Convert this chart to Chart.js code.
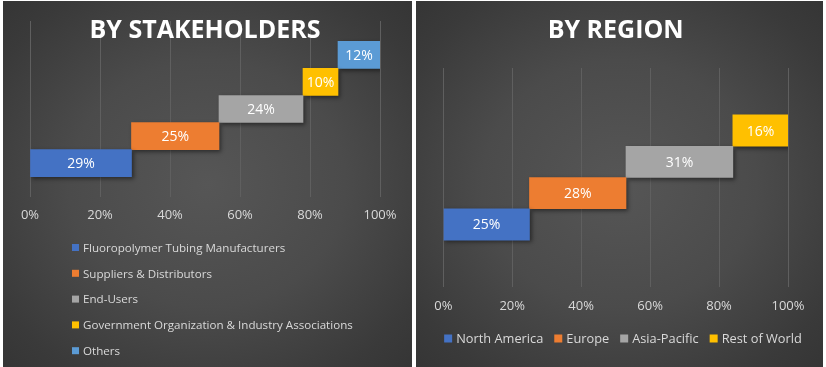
<!DOCTYPE html>
<html><head><meta charset="utf-8">
<script src="https://cdn.jsdelivr.net/npm/chart.js@4.4.1/dist/chart.umd.min.js"></script>
<style>
html,body{margin:0;padding:0;background:#fff;width:826px;height:367px;overflow:hidden}
.panel{position:absolute;top:1px;height:366px;background:radial-gradient(ellipse 75% 75% at 50% 50%, #565656 0%, #4b4b4b 45%, #3a3a3a 80%, #333 100%);}
#p1{left:3px;width:409px}
#p2{left:416px;width:407px}
canvas{display:block}
</style></head><body>
<div class="panel" id="p1"><canvas id="c1"></canvas></div>
<div class="panel" id="p2"><canvas id="c2"></canvas></div>
<script>
// ---- data ----
const stakeholderCategories = ['Fluoropolymer Tubing Manufacturers','Suppliers & Distributors','End-Users','Government Organization & Industry Associations','Others'];
const stakeholderShares = [29, 25, 24, 10, 12];
const regionCategories = ['North America','Europe','Asia-Pacific','Rest of World'];
const regionShares = [25, 28, 31, 16];
const percentTicks = [0, 20, 40, 60, 80, 100];
const seriesColors = ['#4472C4','#ED7D31','#A5A5A5','#FFC000','#5B9BD5'];

const FONT = '"Open Sans", "Noto Sans", sans-serif';
const TEXT = '#d9d9d9';

function buildDatasets(cats, shares){
  let start = 0;
  return cats.map((c, i) => {
    const s = start; start += shares[i];
    return {label: c, data: [{x: [s, start], y: i, v: shares[i]}],
      backgroundColor: seriesColors[i], grouped: false,
      barPercentage: 1, categoryPercentage: 1, borderWidth: 0};
  });
}

const barShadow = {
  id: 'barShadow',
  beforeDatasetsDraw(chart){ const ctx = chart.ctx; ctx.save();
    ctx.shadowColor = 'rgba(0,0,0,0.45)'; ctx.shadowBlur = 4; ctx.shadowOffsetX = 2; ctx.shadowOffsetY = 2; },
  afterDatasetsDraw(chart){ chart.ctx.restore(); }
};
const barLabels = {
  id: 'barLabels',
  afterDatasetsDraw(chart){
    const ctx = chart.ctx; ctx.save();
    ctx.font = '14px ' + FONT; ctx.fillStyle = '#ffffff';
    ctx.textAlign = 'center'; ctx.textBaseline = 'middle';
    chart.data.datasets.forEach((ds, di) => {
      chart.getDatasetMeta(di).data.forEach((el, i) => {
        const p = el.getCenterPoint();
        ctx.fillText(ds.data[i].v + '%', p.x, p.y + 1);
      });
    });
    ctx.restore();
  }
};
const boxLegend = {
  id: 'boxLegend',
  afterDraw(chart, args, o){
    const ctx = chart.ctx; ctx.save();
    ctx.font = o.size + 'px ' + FONT; ctx.textBaseline = 'middle'; ctx.textAlign = 'left';
    const items = chart.data.datasets.map(d => ({text: d.label, color: d.backgroundColor}));
    if (o.layout === 'column') {
      items.forEach((it, i) => {
        const y = o.y + i * o.rowGap;
        ctx.fillStyle = it.color; ctx.fillRect(o.x, y - o.box/2, o.box, o.box);
        ctx.fillStyle = TEXT; ctx.fillText(it.text, o.x + o.box + o.gap, y + 1);
      });
    } else {
      const widths = items.map(it => o.box + o.gap + ctx.measureText(it.text).width);
      const total = widths.reduce((a, b) => a + b, 0) + o.itemGap * (items.length - 1);
      let x = o.cx - total / 2;
      items.forEach((it, i) => {
        ctx.fillStyle = it.color; ctx.fillRect(x, o.y - o.box/2, o.box, o.box);
        ctx.fillStyle = TEXT; ctx.fillText(it.text, x + o.box + o.gap, o.y + 1);
        x += widths[i] + o.itemGap;
      });
    }
    ctx.restore();
  }
};

function makeChart(id, title, cats, shares, yMin, yMax, titlePad, pad, tickPad, legendOpts){
  return new Chart(document.getElementById(id), {
    type: 'bar',
    data: {datasets: buildDatasets(cats, shares)},
    plugins: [barShadow, barLabels, boxLegend],
    options: {
      indexAxis: 'y', responsive: true, maintainAspectRatio: false, animation: false,
      layout: {padding: pad},
      scales: {
        x: {type: 'linear', min: 0, max: 100,
          afterBuildTicks: s => { s.ticks = percentTicks.map(v => ({value: v})); },
          ticks: {color: TEXT, font: {family: FONT, size: 13}, padding: tickPad, callback: v => v + '%'},
          grid: {color: '#5f5f5f', lineWidth: 1, drawTicks: false}, border: {display: false}},
        y: {type: 'linear', display: false, min: yMin, max: yMax, bounds: 'data', offset: false, grace: 0,
          afterBuildTicks: s => { s.ticks = cats.map((c, i) => ({value: i})); }}
      },
      plugins: {
        legend: {display: false}, tooltip: {enabled: false},
        title: {display: true, text: title, color: '#ffffff',
          font: {family: FONT, size: 25, weight: 'bold', lineHeight: 1.2}, padding: titlePad},
        boxLegend: legendOpts
      }
    }
  });
}

makeChart('c1', 'BY STAKEHOLDERS', stakeholderCategories, stakeholderShares, -1.25, 5.25,
  {top: 14.5, bottom: -24.5}, {left: 27, right: 32, top: 0, bottom: 134.4}, 10,
  {layout: 'column', x: 69, y: 246.5, rowGap: 25.8, box: 7, gap: 4, size: 11.6});
makeChart('c2', 'BY REGION', regionCategories, regionShares, -2, 5,
  {top: 14.5, bottom: 22.5}, {left: 27.3, right: 35, top: 0, bottom: 42.4}, 11,
  {layout: 'row', cx: 207, y: 337.5, box: 8, gap: 4, itemGap: 11, size: 12.8});
</script>
</body></html>
